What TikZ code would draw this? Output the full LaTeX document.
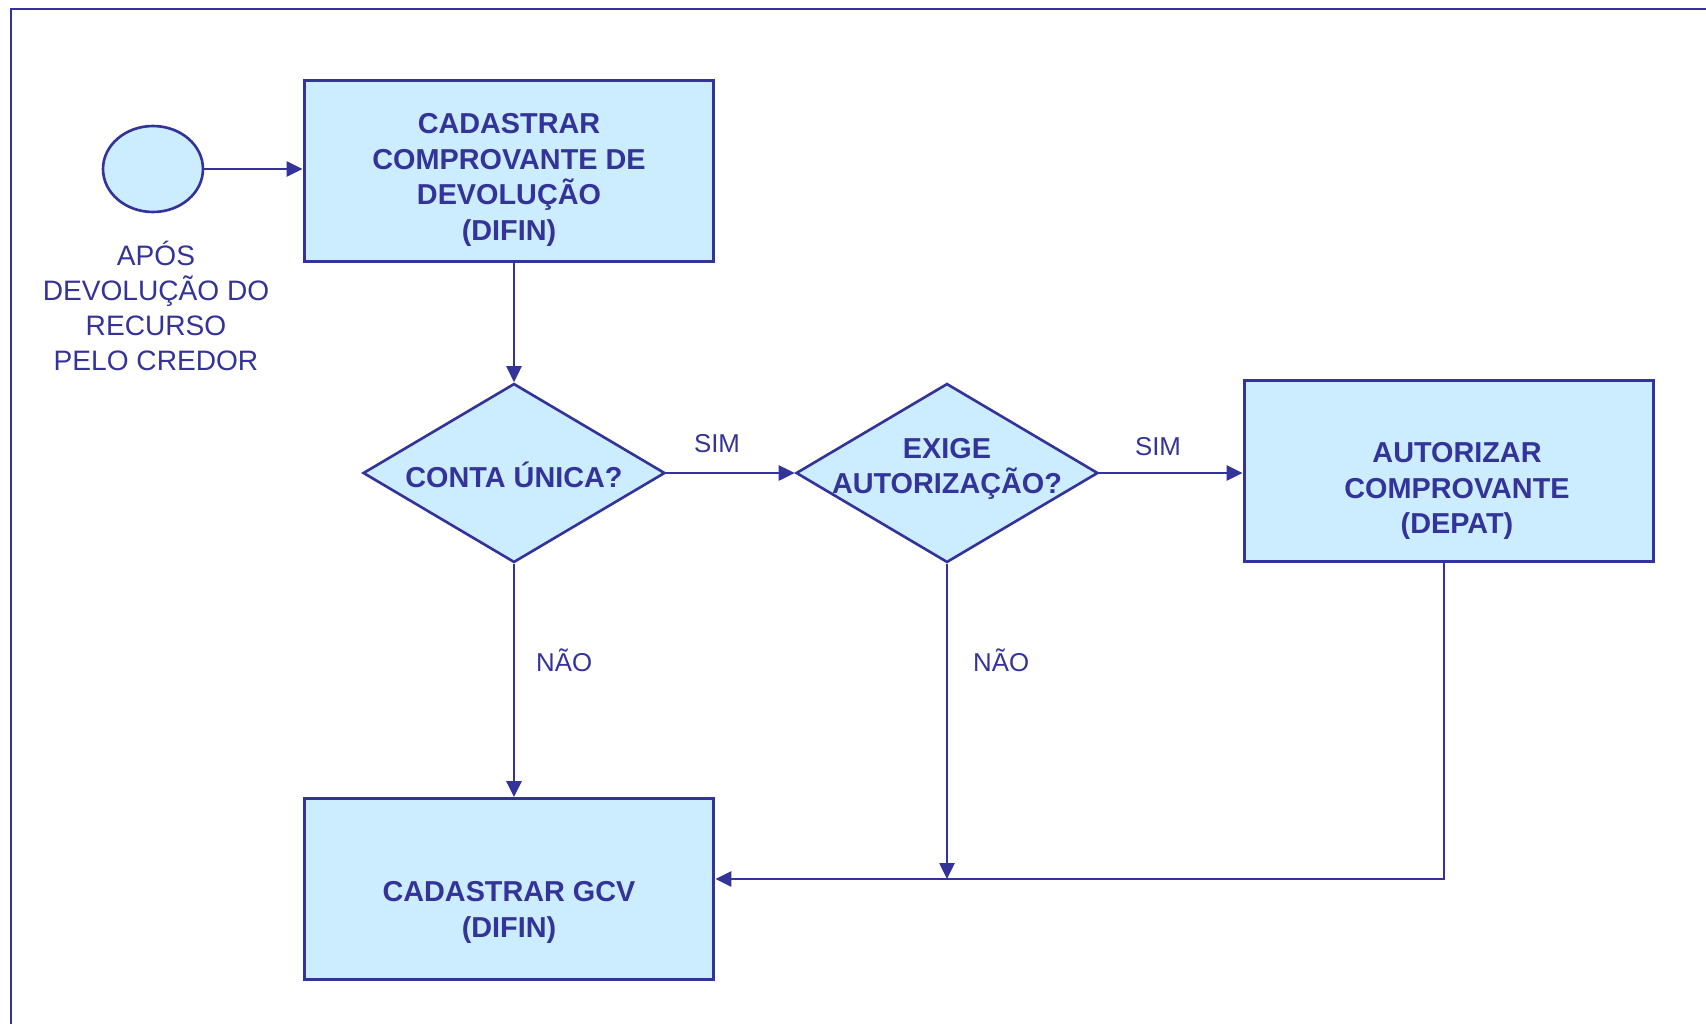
\documentclass[tikz,border=0pt]{standalone}
\usepackage{fontspec}
\setmainfont{Liberation Sans}
\usetikzlibrary{shapes.geometric,arrows.meta}

\definecolor{linha}{HTML}{333399}
\definecolor{fundo}{HTML}{CCECFF}

\tikzset{
  caixa/.style={draw=linha,fill=fundo,line width=1.7pt,minimum width=8.2cm,minimum height=3.62cm},
  decisao/.style={diamond,draw=linha,fill=fundo,line width=1.5pt,minimum width=6.04cm,minimum height=3.58cm,inner sep=0pt},
  texto/.style={text=linha,font=\bfseries\fontsize{16.4}{20.4}\selectfont,align=center},
  rotulo/.style={text=linha,font=\fontsize{14.7}{18}\selectfont},
  seta/.style={draw=linha,line width=1.5pt,arrows={-Triangle[length=0.32cm,width=0.3cm]}}
}

\begin{document}
\begin{tikzpicture}[x=0.02cm,y=-0.02cm]
\useasboundingbox (0,0) rectangle (1706,1024);
\draw[linha,line width=1.7pt] (11,1024) -- (11,9) -- (1706,9);

\node[ellipse,draw=linha,fill=fundo,line width=1.5pt,minimum width=2cm,minimum height=1.72cm] (inicio) at (153,169) {};
\node[text=linha,align=center,font=\fontsize{16}{19.8}\selectfont] (txtinicio) at (156,306) {APÓS\\DEVOLUÇÃO DO\\RECURSO\\PELO CREDOR};

\node[caixa] (c1) at (509,171) {};
\node[texto] (t1) at (509,180) {CADASTRAR\\COMPROVANTE DE\\DEVOLUÇÃO\\(DIFIN)};
\node[decisao] (d1) at (514,473) {};
\node[texto] (t2) at (514,475) {CONTA ÚNICA?};
\node[decisao] (d2) at (947,473) {};
\node[texto] (t3) at (947,469) {EXIGE\\AUTORIZAÇÃO?};
\node[caixa] (c3) at (1449,471) {};
\node[texto] (t4) at (1457,491) {AUTORIZAR\\COMPROVANTE\\(DEPAT)};
\node[caixa] (c4) at (509,889) {};
\node[texto] (t5) at (509,912) {CADASTRAR GCV\\(DIFIN)};
\coordinate (canto) at (1444,879);

\draw[seta] (inicio.east) -- (inicio.east -| c1.west);
\draw[seta] (d1.north |- c1.south) -- (d1.north);
\draw[seta] (d1.east) -- (d2.west);
\draw[seta] (d2.east) -- (d2.east -| c3.west);
\draw[seta] (d1.south) -- (d1.south |- c4.north);
\draw[seta] (d2.south) -- (d2.south |- canto);
\draw[seta] (c3.south -| canto) -- (canto) -- (canto -| c4.east);

\node[rotulo] (sim1) at (717,444) {SIM};
\node[rotulo] (sim2) at (1158,447) {SIM};
\node[rotulo,anchor=west] (nao1) at (530,660) {NÃO};
\node[rotulo,anchor=west] (nao2) at (967,660) {NÃO};
\end{tikzpicture}
\end{document}
